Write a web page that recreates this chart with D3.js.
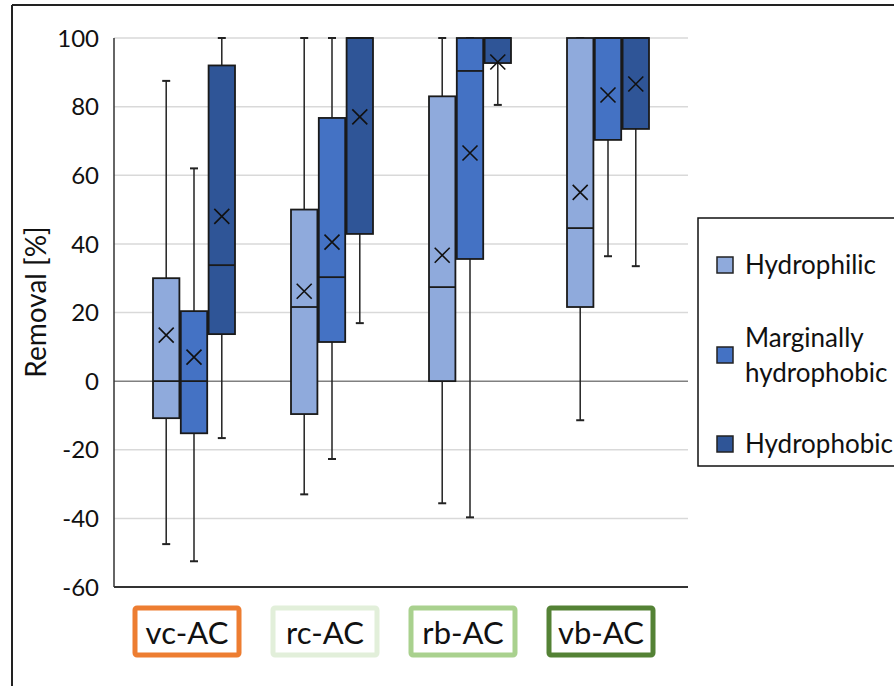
<!DOCTYPE html>
<html><head><meta charset="utf-8">
<script src="https://cdn.jsdelivr.net/npm/d3@7"></script>
<style>body{margin:0;background:#fff}svg{display:block}</style>
</head><body><svg id="c" width="894" height="686"></svg>
<script>
const categories = ["vc-AC","rc-AC","rb-AC","vb-AC"];
const categoryColors = ["#ed7d31","#e2efda","#a9d18e","#548235"];
const series = ["Hydrophilic","Marginally hydrophobic","Hydrophobic"];
const seriesColors = ["#8faadc","#4472c4","#2f5597"];
const yTicks = [-60,-40,-20,0,20,40,60,80,100];
// [whiskerLow, q1, median, q3, whiskerHigh, mean] per category per series
const hydrophilic = [
  [-47.5,-10.8,0,30,87.5,13.4],
  [-33,-9.6,21.6,50,100,26.2],
  [-35.6,0,27.4,83,100,36.7],
  [-11.4,21.6,44.6,100,100,55]
];
const marginal = [
  [-52.5,-15.2,0,20.4,62,7],
  [-22.7,11.4,30.3,76.7,100,40.5],
  [-39.7,35.6,90.4,100,100,66.5],
  [36.4,70.3,100,100,100,83.4]
];
const hydrophobic = [
  [-16.6,13.7,33.8,92,100,48],
  [16.9,42.9,100,100,100,77],
  [80.5,92.7,100,100,100,93],
  [33.5,73.5,100,100,100,86.6]
];
const allSeries = [hydrophilic, marginal, hydrophobic];

const FONT = "Lato, 'Open Sans', sans-serif";
const svg = d3.select("#c");
const x0 = 114, x1 = 688, yTop = 38, yBot = 587;
const y = d3.scaleLinear().domain([-60,100]).range([yBot,yTop]);
const xb = d3.scaleBand().domain(categories).range([125,677]).padding(0);
const xs = d3.scaleBand().domain(series).range([-41,41]).paddingInner(0.05);

// frame
svg.append("line").attr("x1",12).attr("x2",12).attr("y1",5).attr("y2",686).attr("stroke","#222").attr("stroke-width",2);
svg.append("line").attr("x1",12).attr("x2",894).attr("y1",5).attr("y2",5).attr("stroke","#222").attr("stroke-width",2);

// grid
svg.append("g").selectAll("line").data(yTicks.filter(d=>d!==-60)).join("line")
  .attr("x1",x0).attr("x2",x1).attr("y1",d=>y(d)).attr("y2",d=>y(d))
  .attr("stroke",d=>d===0?"#808080":"#d9d9d9").attr("stroke-width",1.5);

// axes lines
svg.append("line").attr("x1",x0).attr("x2",x0).attr("y1",yTop).attr("y2",yBot).attr("stroke","#333").attr("stroke-width",1.5);
svg.append("line").attr("x1",x0).attr("x2",x1).attr("y1",yBot).attr("y2",yBot).attr("stroke","#333").attr("stroke-width",2);

// tick labels
svg.append("g").selectAll("text").data(yTicks).join("text")
  .attr("x",99).attr("y",d=>y(d)).attr("dy","0.36em").attr("text-anchor","end")
  .attr("font-family",FONT).attr("font-size",24).attr("fill","#111").text(d=>d);

svg.append("text").attr("transform",`translate(46,302) rotate(-90)`)
  .attr("text-anchor","middle").attr("font-family",FONT)
  .attr("font-size",28).attr("fill","#111").text("Removal [%]");

// boxes
const bw = xs.bandwidth();
series.forEach((s,si)=>{
  const data = allSeries[si];
  const g = svg.append("g");
  categories.forEach((c,ci)=>{
    const [lo,q1,med,q3,hi,mean] = data[ci];
    const cx = xb(c)+xb.bandwidth()/2 + xs(s) + bw/2;
    g.append("line").attr("x1",cx).attr("x2",cx).attr("y1",y(hi)).attr("y2",y(lo)).attr("stroke","#222").attr("stroke-width",1.5);
    [lo,hi].forEach(v=>g.append("line").attr("x1",cx-4).attr("x2",cx+4).attr("y1",y(v)).attr("y2",y(v)).attr("stroke","#222").attr("stroke-width",2));
    g.append("rect").attr("x",cx-bw/2).attr("width",bw).attr("y",y(q3)).attr("height",y(q1)-y(q3))
      .attr("fill",seriesColors[si]).attr("stroke","#1a1a1a").attr("stroke-width",1.8);
    g.append("line").attr("x1",cx-bw/2).attr("x2",cx+bw/2).attr("y1",y(med)).attr("y2",y(med)).attr("stroke","#1a1a1a").attr("stroke-width",1.8);
    const m = 7.5, my = y(mean);
    g.append("path").attr("d",`M${cx-m},${my-m}L${cx+m},${my+m}M${cx-m},${my+m}L${cx+m},${my-m}`)
      .attr("stroke","#111").attr("stroke-width",1.6).attr("fill","none");
  });
});

// category labels
const lg = svg.append("g");
categories.forEach((c,i)=>{
  const cx = xb(c)+xb.bandwidth()/2 - 7;
  lg.append("rect").attr("x",cx-52).attr("y",608).attr("width",104).attr("height",47).attr("rx",2)
    .attr("fill","#fff").attr("stroke",categoryColors[i]).attr("stroke-width",5);
  lg.append("text").attr("x",cx).attr("y",633).attr("dy","0.35em").attr("text-anchor","middle")
    .attr("font-family",FONT).attr("font-size",31).attr("fill","#111").text(c);
});

// legend
const leg = svg.append("g");
leg.append("rect").attr("x",698).attr("y",218).attr("width",210).attr("height",248).attr("fill","#fff").attr("stroke","#111").attr("stroke-width",1.5);
const legItems = [
  {lines:["Hydrophilic"], y:265},
  {lines:["Marginally","hydrophobic"], y:355},
  {lines:["Hydrophobic"], y:444}
];
legItems.forEach((it,i)=>{
  leg.append("rect").attr("x",717).attr("y",it.y-8).attr("width",16).attr("height",16)
    .attr("fill",seriesColors[i]).attr("stroke","#222").attr("stroke-width",1.5);
  it.lines.forEach((t,j)=>{
    leg.append("text").attr("x",745).attr("y",it.y + (it.lines.length===1?0:(j-0.5)*35)).attr("dy","0.35em")
      .attr("font-family",FONT).attr("font-size",26).attr("fill","#111").text(t);
  });
});
</script></body></html>
